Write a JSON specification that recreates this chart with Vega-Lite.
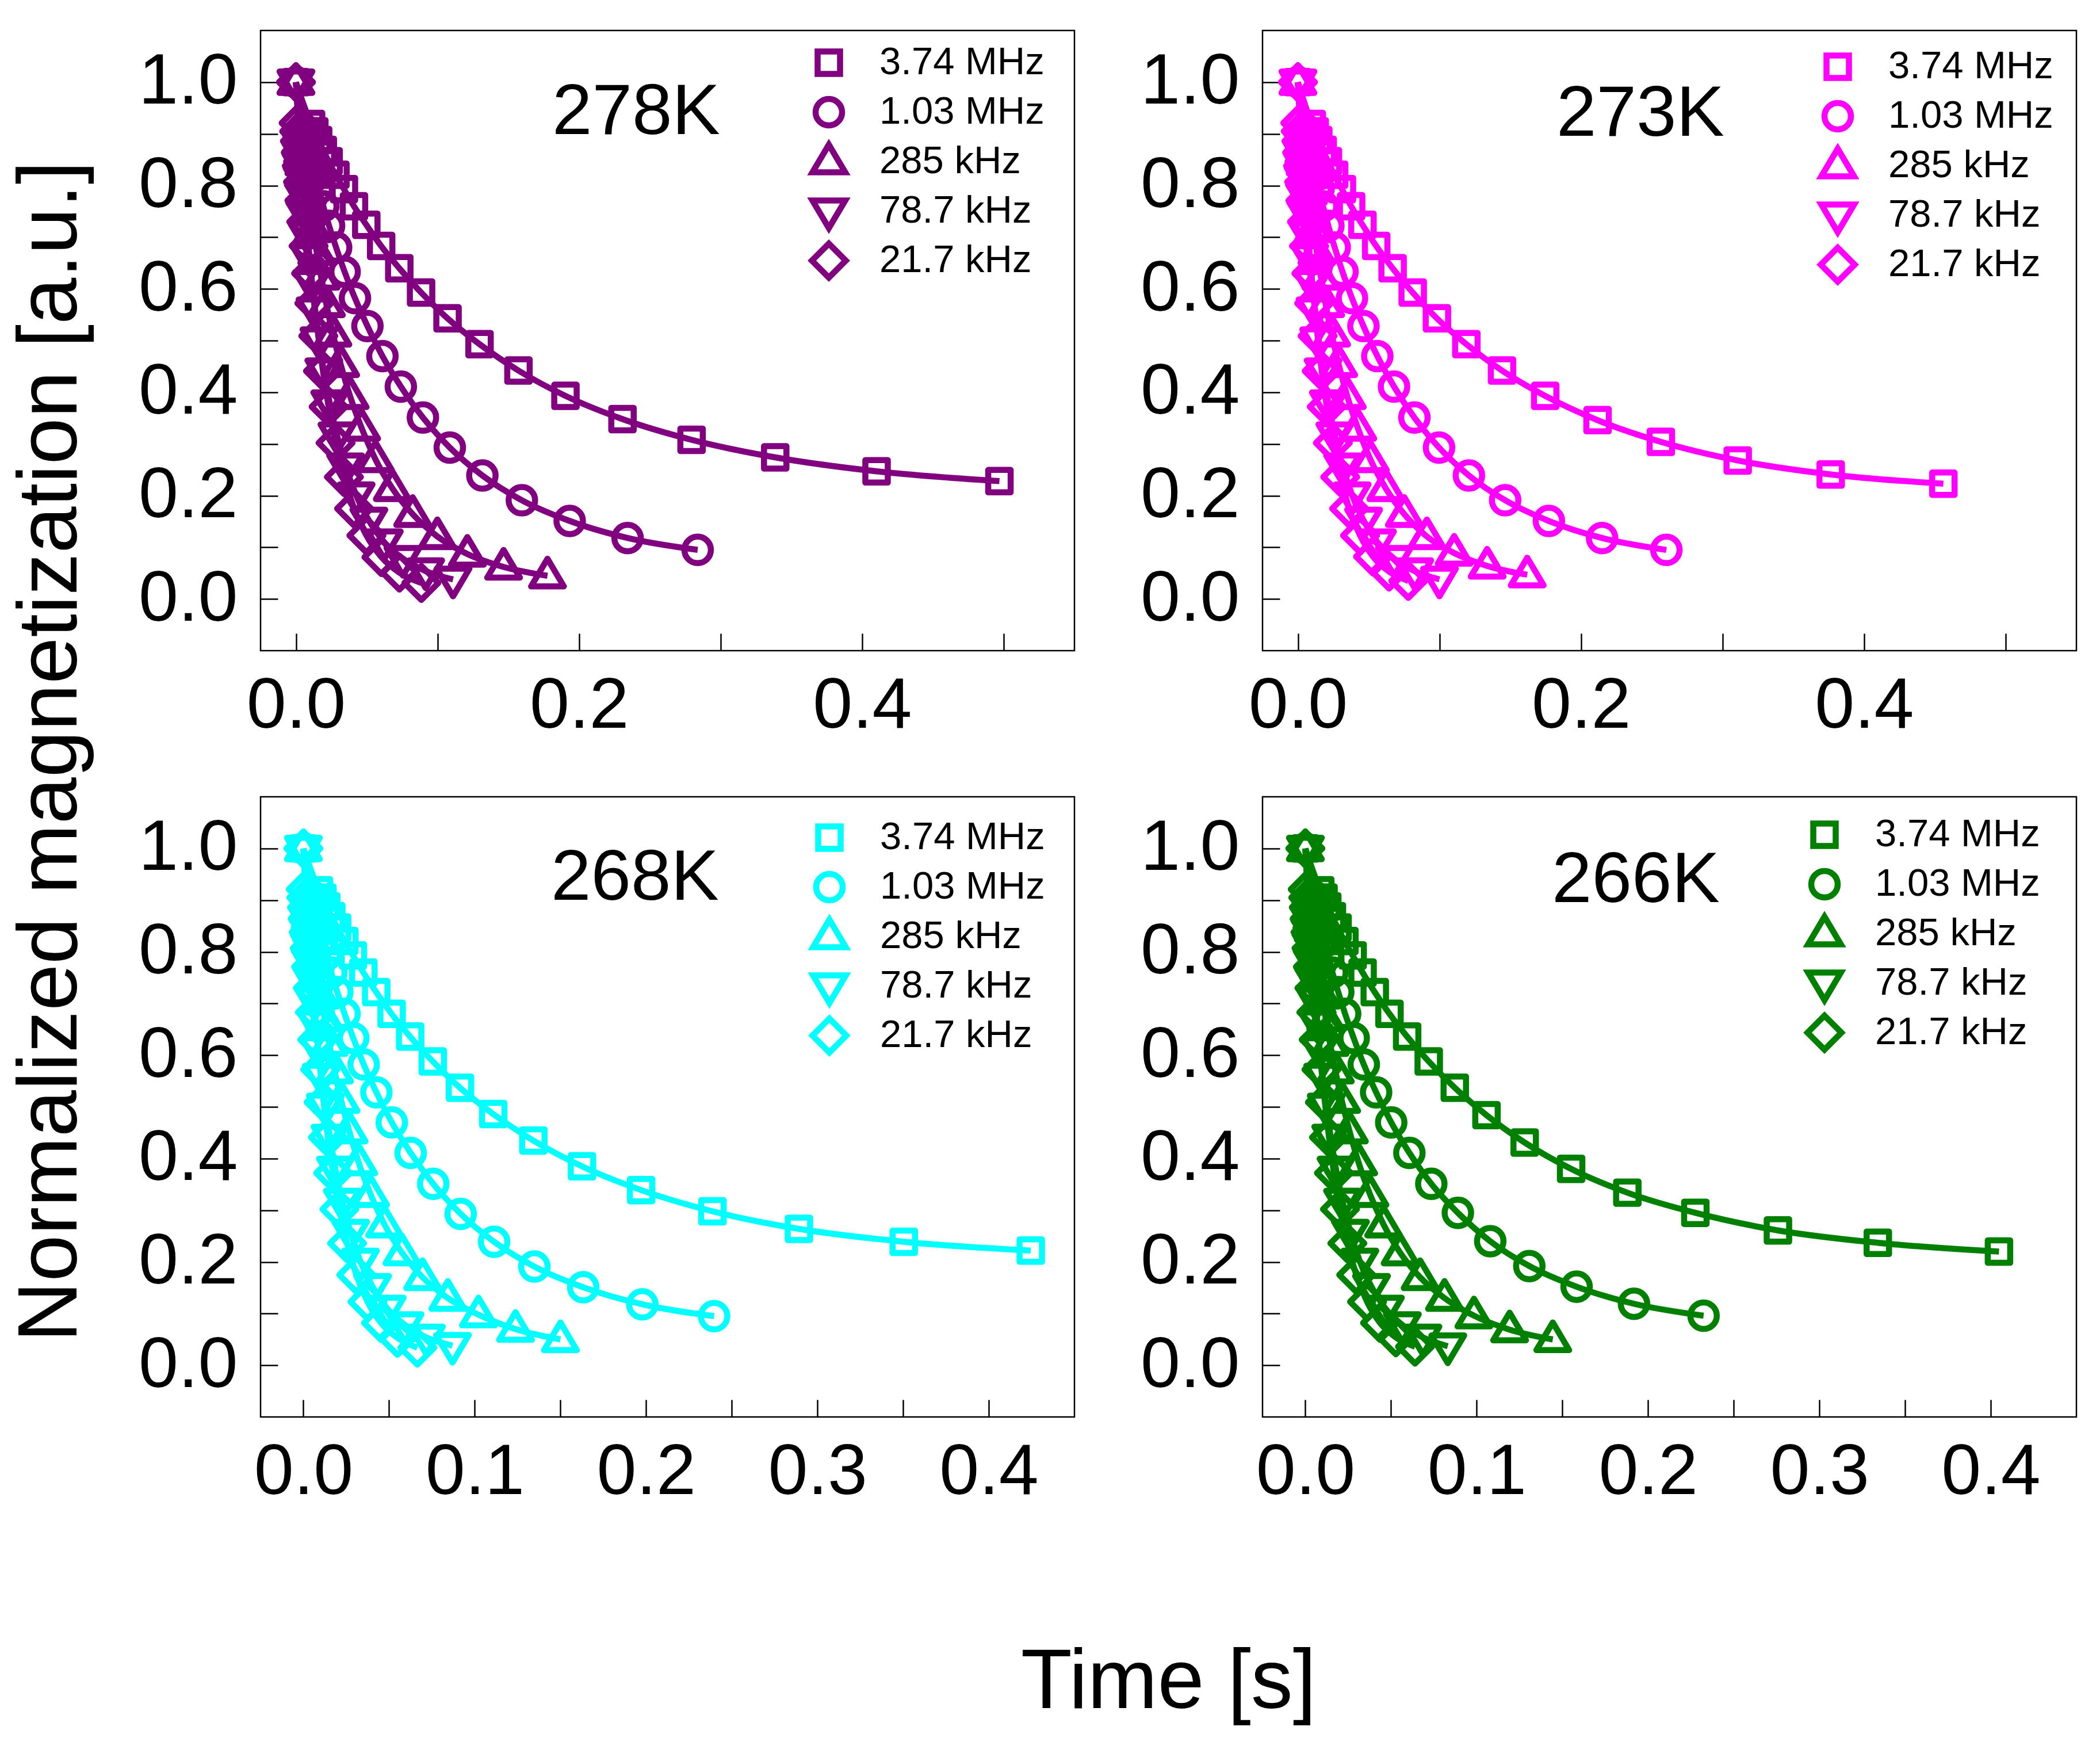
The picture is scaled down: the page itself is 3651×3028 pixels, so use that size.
{
"$schema": "https://vega.github.io/schema/vega-lite/v6.json",
"padding": {"left": 13, "top": 51, "right": 30, "bottom": 30},
"background": "white",
"config": {
  "font": "Liberation Sans",
  "view": {"stroke": "black", "strokeWidth": 2.5},
  "axis": {"labelFontSize": 124, "labelColor": "black", "labelFont": "Liberation Sans", "tickSize": -30, "tickWidth": 2.5, "tickColor": "black", "domain": false, "grid": false, "labelOverlap": false, "labelFlush": false, "labelBound": false, "labelLimit": 1000, "titleFontSize": 146, "titleFontWeight": "normal", "titleColor": "black", "titleFont": "Liberation Sans"},
  "axisX": {"labelPadding": 65},
  "axisY": {"labelPadding": 70},
  "legend": {"labelFontSize": 67, "labelColor": "black", "labelFont": "Liberation Sans", "labelLimit": 1000, "symbolStrokeWidth": 10.5, "symbolFillColor": "transparent", "symbolSize": 3480, "rowPadding": -21, "labelOffset": 53, "padding": 0},
  "title": {"fontSize": 125, "fontWeight": "normal", "color": "black", "font": "Liberation Sans"}
},
"data": {"values": [
{"p":"278K","f":"3.74 MHz","t":0,"y":1},{"p":"278K","f":"3.74 MHz","t":0.0107,"y":0.919},{"p":"278K","f":"3.74 MHz","t":0.013,"y":0.905},{"p":"278K","f":"3.74 MHz","t":0.0157,"y":0.888},{"p":"278K","f":"3.74 MHz","t":0.019,"y":0.869},{"p":"278K","f":"3.74 MHz","t":0.0231,"y":0.847},{"p":"278K","f":"3.74 MHz","t":0.0279,"y":0.821},{"p":"278K","f":"3.74 MHz","t":0.0339,"y":0.793},{"p":"278K","f":"3.74 MHz","t":0.041,"y":0.76},{"p":"278K","f":"3.74 MHz","t":0.0497,"y":0.724},{"p":"278K","f":"3.74 MHz","t":0.0602,"y":0.683},{"p":"278K","f":"3.74 MHz","t":0.073,"y":0.64},{"p":"278K","f":"3.74 MHz","t":0.0884,"y":0.593},{"p":"278K","f":"3.74 MHz","t":0.1071,"y":0.543},{"p":"278K","f":"3.74 MHz","t":0.1297,"y":0.493},{"p":"278K","f":"3.74 MHz","t":0.1572,"y":0.442},{"p":"278K","f":"3.74 MHz","t":0.1904,"y":0.393},{"p":"278K","f":"3.74 MHz","t":0.2307,"y":0.348},{"p":"278K","f":"3.74 MHz","t":0.2795,"y":0.308},{"p":"278K","f":"3.74 MHz","t":0.3386,"y":0.274},{"p":"278K","f":"3.74 MHz","t":0.4102,"y":0.247},{"p":"278K","f":"3.74 MHz","t":0.497,"y":0.228},
{"p":"278K","f":"1.03 MHz","t":0,"y":1},{"p":"278K","f":"1.03 MHz","t":0.0061,"y":0.907},{"p":"278K","f":"1.03 MHz","t":0.0074,"y":0.89},{"p":"278K","f":"1.03 MHz","t":0.009,"y":0.871},{"p":"278K","f":"1.03 MHz","t":0.0109,"y":0.849},{"p":"278K","f":"1.03 MHz","t":0.0132,"y":0.823},{"p":"278K","f":"1.03 MHz","t":0.016,"y":0.794},{"p":"278K","f":"1.03 MHz","t":0.0193,"y":0.76},{"p":"278K","f":"1.03 MHz","t":0.0234,"y":0.722},{"p":"278K","f":"1.03 MHz","t":0.0284,"y":0.68},{"p":"278K","f":"1.03 MHz","t":0.0344,"y":0.633},{"p":"278K","f":"1.03 MHz","t":0.0417,"y":0.582},{"p":"278K","f":"1.03 MHz","t":0.0505,"y":0.528},{"p":"278K","f":"1.03 MHz","t":0.0611,"y":0.47},{"p":"278K","f":"1.03 MHz","t":0.0741,"y":0.411},{"p":"278K","f":"1.03 MHz","t":0.0897,"y":0.351},{"p":"278K","f":"1.03 MHz","t":0.1087,"y":0.293},{"p":"278K","f":"1.03 MHz","t":0.1317,"y":0.239},{"p":"278K","f":"1.03 MHz","t":0.1596,"y":0.191},{"p":"278K","f":"1.03 MHz","t":0.1934,"y":0.151},{"p":"278K","f":"1.03 MHz","t":0.2343,"y":0.118},{"p":"278K","f":"1.03 MHz","t":0.2838,"y":0.095},
{"p":"278K","f":"285 kHz","t":0,"y":1},{"p":"278K","f":"285 kHz","t":0.0038,"y":0.887},{"p":"278K","f":"285 kHz","t":0.0046,"y":0.867},{"p":"278K","f":"285 kHz","t":0.0056,"y":0.844},{"p":"278K","f":"285 kHz","t":0.0068,"y":0.818},{"p":"278K","f":"285 kHz","t":0.0082,"y":0.788},{"p":"278K","f":"285 kHz","t":0.01,"y":0.753},{"p":"278K","f":"285 kHz","t":0.0121,"y":0.715},{"p":"278K","f":"285 kHz","t":0.0147,"y":0.671},{"p":"278K","f":"285 kHz","t":0.0178,"y":0.623},{"p":"278K","f":"285 kHz","t":0.0215,"y":0.57},{"p":"278K","f":"285 kHz","t":0.0261,"y":0.513},{"p":"278K","f":"285 kHz","t":0.0316,"y":0.454},{"p":"278K","f":"285 kHz","t":0.0383,"y":0.392},{"p":"278K","f":"285 kHz","t":0.0464,"y":0.331},{"p":"278K","f":"285 kHz","t":0.0562,"y":0.27},{"p":"278K","f":"285 kHz","t":0.0681,"y":0.214},{"p":"278K","f":"285 kHz","t":0.0825,"y":0.164},{"p":"278K","f":"285 kHz","t":0.0999,"y":0.121},{"p":"278K","f":"285 kHz","t":0.1211,"y":0.087},{"p":"278K","f":"285 kHz","t":0.1467,"y":0.062},{"p":"278K","f":"285 kHz","t":0.1777,"y":0.045},
{"p":"278K","f":"78.7 kHz","t":0,"y":1},{"p":"278K","f":"78.7 kHz","t":0.0024,"y":0.884},{"p":"278K","f":"78.7 kHz","t":0.0029,"y":0.863},{"p":"278K","f":"78.7 kHz","t":0.0035,"y":0.84},{"p":"278K","f":"78.7 kHz","t":0.0043,"y":0.813},{"p":"278K","f":"78.7 kHz","t":0.0052,"y":0.781},{"p":"278K","f":"78.7 kHz","t":0.0062,"y":0.746},{"p":"278K","f":"78.7 kHz","t":0.0076,"y":0.706},{"p":"278K","f":"78.7 kHz","t":0.0092,"y":0.662},{"p":"278K","f":"78.7 kHz","t":0.0111,"y":0.612},{"p":"278K","f":"78.7 kHz","t":0.0135,"y":0.559},{"p":"278K","f":"78.7 kHz","t":0.0163,"y":0.501},{"p":"278K","f":"78.7 kHz","t":0.0197,"y":0.441},{"p":"278K","f":"78.7 kHz","t":0.0239,"y":0.379},{"p":"278K","f":"78.7 kHz","t":0.029,"y":0.317},{"p":"278K","f":"78.7 kHz","t":0.0351,"y":0.257},{"p":"278K","f":"78.7 kHz","t":0.0425,"y":0.201},{"p":"278K","f":"78.7 kHz","t":0.0515,"y":0.152},{"p":"278K","f":"78.7 kHz","t":0.0624,"y":0.11},{"p":"278K","f":"78.7 kHz","t":0.0756,"y":0.078},{"p":"278K","f":"78.7 kHz","t":0.0916,"y":0.054},{"p":"278K","f":"78.7 kHz","t":0.111,"y":0.038},
{"p":"278K","f":"21.7 kHz","t":0,"y":1},{"p":"278K","f":"21.7 kHz","t":0.0019,"y":0.921},{"p":"278K","f":"21.7 kHz","t":0.0023,"y":0.905},{"p":"278K","f":"21.7 kHz","t":0.0028,"y":0.886},{"p":"278K","f":"21.7 kHz","t":0.0034,"y":0.864},{"p":"278K","f":"21.7 kHz","t":0.0041,"y":0.838},{"p":"278K","f":"21.7 kHz","t":0.005,"y":0.807},{"p":"278K","f":"21.7 kHz","t":0.006,"y":0.771},{"p":"278K","f":"21.7 kHz","t":0.0073,"y":0.73},{"p":"278K","f":"21.7 kHz","t":0.0089,"y":0.683},{"p":"278K","f":"21.7 kHz","t":0.0107,"y":0.63},{"p":"278K","f":"21.7 kHz","t":0.013,"y":0.572},{"p":"278K","f":"21.7 kHz","t":0.0158,"y":0.509},{"p":"278K","f":"21.7 kHz","t":0.0191,"y":0.441},{"p":"278K","f":"21.7 kHz","t":0.0231,"y":0.372},{"p":"278K","f":"21.7 kHz","t":0.028,"y":0.302},{"p":"278K","f":"21.7 kHz","t":0.0339,"y":0.236},{"p":"278K","f":"21.7 kHz","t":0.0411,"y":0.175},{"p":"278K","f":"21.7 kHz","t":0.0498,"y":0.123},{"p":"278K","f":"21.7 kHz","t":0.0604,"y":0.081},{"p":"278K","f":"21.7 kHz","t":0.0731,"y":0.051},{"p":"278K","f":"21.7 kHz","t":0.0886,"y":0.031},
{"p":"273K","f":"3.74 MHz","t":0,"y":1},{"p":"273K","f":"3.74 MHz","t":0.0098,"y":0.919},{"p":"273K","f":"3.74 MHz","t":0.0119,"y":0.905},{"p":"273K","f":"3.74 MHz","t":0.0144,"y":0.888},{"p":"273K","f":"3.74 MHz","t":0.0175,"y":0.869},{"p":"273K","f":"3.74 MHz","t":0.0212,"y":0.847},{"p":"273K","f":"3.74 MHz","t":0.0256,"y":0.821},{"p":"273K","f":"3.74 MHz","t":0.0311,"y":0.793},{"p":"273K","f":"3.74 MHz","t":0.0376,"y":0.76},{"p":"273K","f":"3.74 MHz","t":0.0456,"y":0.724},{"p":"273K","f":"3.74 MHz","t":0.0553,"y":0.683},{"p":"273K","f":"3.74 MHz","t":0.0669,"y":0.64},{"p":"273K","f":"3.74 MHz","t":0.0811,"y":0.593},{"p":"273K","f":"3.74 MHz","t":0.0982,"y":0.543},{"p":"273K","f":"3.74 MHz","t":0.119,"y":0.493},{"p":"273K","f":"3.74 MHz","t":0.1442,"y":0.442},{"p":"273K","f":"3.74 MHz","t":0.1747,"y":0.393},{"p":"273K","f":"3.74 MHz","t":0.2117,"y":0.346},{"p":"273K","f":"3.74 MHz","t":0.2564,"y":0.304},{"p":"273K","f":"3.74 MHz","t":0.3107,"y":0.268},{"p":"273K","f":"3.74 MHz","t":0.3764,"y":0.241},{"p":"273K","f":"3.74 MHz","t":0.456,"y":0.223},
{"p":"273K","f":"1.03 MHz","t":0,"y":1},{"p":"273K","f":"1.03 MHz","t":0.0056,"y":0.907},{"p":"273K","f":"1.03 MHz","t":0.0068,"y":0.89},{"p":"273K","f":"1.03 MHz","t":0.0082,"y":0.871},{"p":"273K","f":"1.03 MHz","t":0.01,"y":0.849},{"p":"273K","f":"1.03 MHz","t":0.0121,"y":0.823},{"p":"273K","f":"1.03 MHz","t":0.0146,"y":0.794},{"p":"273K","f":"1.03 MHz","t":0.0177,"y":0.76},{"p":"273K","f":"1.03 MHz","t":0.0215,"y":0.722},{"p":"273K","f":"1.03 MHz","t":0.026,"y":0.68},{"p":"273K","f":"1.03 MHz","t":0.0315,"y":0.633},{"p":"273K","f":"1.03 MHz","t":0.0382,"y":0.582},{"p":"273K","f":"1.03 MHz","t":0.0463,"y":0.528},{"p":"273K","f":"1.03 MHz","t":0.0561,"y":0.47},{"p":"273K","f":"1.03 MHz","t":0.0679,"y":0.411},{"p":"273K","f":"1.03 MHz","t":0.0823,"y":0.351},{"p":"273K","f":"1.03 MHz","t":0.0997,"y":0.293},{"p":"273K","f":"1.03 MHz","t":0.1208,"y":0.239},{"p":"273K","f":"1.03 MHz","t":0.1464,"y":0.191},{"p":"273K","f":"1.03 MHz","t":0.1773,"y":0.151},{"p":"273K","f":"1.03 MHz","t":0.2149,"y":0.118},{"p":"273K","f":"1.03 MHz","t":0.2603,"y":0.095},
{"p":"273K","f":"285 kHz","t":0,"y":1},{"p":"273K","f":"285 kHz","t":0.0035,"y":0.887},{"p":"273K","f":"285 kHz","t":0.0042,"y":0.867},{"p":"273K","f":"285 kHz","t":0.0051,"y":0.844},{"p":"273K","f":"285 kHz","t":0.0062,"y":0.818},{"p":"273K","f":"285 kHz","t":0.0075,"y":0.788},{"p":"273K","f":"285 kHz","t":0.0091,"y":0.753},{"p":"273K","f":"285 kHz","t":0.011,"y":0.715},{"p":"273K","f":"285 kHz","t":0.0134,"y":0.671},{"p":"273K","f":"285 kHz","t":0.0162,"y":0.623},{"p":"273K","f":"285 kHz","t":0.0196,"y":0.57},{"p":"273K","f":"285 kHz","t":0.0238,"y":0.513},{"p":"273K","f":"285 kHz","t":0.0288,"y":0.454},{"p":"273K","f":"285 kHz","t":0.0349,"y":0.392},{"p":"273K","f":"285 kHz","t":0.0423,"y":0.331},{"p":"273K","f":"285 kHz","t":0.0512,"y":0.27},{"p":"273K","f":"285 kHz","t":0.0621,"y":0.214},{"p":"273K","f":"285 kHz","t":0.0752,"y":0.164},{"p":"273K","f":"285 kHz","t":0.0911,"y":0.121},{"p":"273K","f":"285 kHz","t":0.1104,"y":0.089},{"p":"273K","f":"285 kHz","t":0.1337,"y":0.064},{"p":"273K","f":"285 kHz","t":0.162,"y":0.047},
{"p":"273K","f":"78.7 kHz","t":0,"y":1},{"p":"273K","f":"78.7 kHz","t":0.0022,"y":0.884},{"p":"273K","f":"78.7 kHz","t":0.0026,"y":0.863},{"p":"273K","f":"78.7 kHz","t":0.0032,"y":0.84},{"p":"273K","f":"78.7 kHz","t":0.0038,"y":0.813},{"p":"273K","f":"78.7 kHz","t":0.0046,"y":0.781},{"p":"273K","f":"78.7 kHz","t":0.0056,"y":0.746},{"p":"273K","f":"78.7 kHz","t":0.0068,"y":0.706},{"p":"273K","f":"78.7 kHz","t":0.0083,"y":0.662},{"p":"273K","f":"78.7 kHz","t":0.01,"y":0.612},{"p":"273K","f":"78.7 kHz","t":0.0121,"y":0.559},{"p":"273K","f":"78.7 kHz","t":0.0147,"y":0.501},{"p":"273K","f":"78.7 kHz","t":0.0178,"y":0.441},{"p":"273K","f":"78.7 kHz","t":0.0215,"y":0.379},{"p":"273K","f":"78.7 kHz","t":0.0261,"y":0.317},{"p":"273K","f":"78.7 kHz","t":0.0316,"y":0.257},{"p":"273K","f":"78.7 kHz","t":0.0383,"y":0.201},{"p":"273K","f":"78.7 kHz","t":0.0464,"y":0.152},{"p":"273K","f":"78.7 kHz","t":0.0562,"y":0.11},{"p":"273K","f":"78.7 kHz","t":0.0681,"y":0.078},{"p":"273K","f":"78.7 kHz","t":0.0825,"y":0.054},{"p":"273K","f":"78.7 kHz","t":0.1,"y":0.038},
{"p":"273K","f":"21.7 kHz","t":0,"y":1},{"p":"273K","f":"21.7 kHz","t":0.0017,"y":0.921},{"p":"273K","f":"21.7 kHz","t":0.002,"y":0.905},{"p":"273K","f":"21.7 kHz","t":0.0025,"y":0.886},{"p":"273K","f":"21.7 kHz","t":0.003,"y":0.864},{"p":"273K","f":"21.7 kHz","t":0.0036,"y":0.838},{"p":"273K","f":"21.7 kHz","t":0.0044,"y":0.807},{"p":"273K","f":"21.7 kHz","t":0.0053,"y":0.771},{"p":"273K","f":"21.7 kHz","t":0.0064,"y":0.73},{"p":"273K","f":"21.7 kHz","t":0.0078,"y":0.683},{"p":"273K","f":"21.7 kHz","t":0.0095,"y":0.63},{"p":"273K","f":"21.7 kHz","t":0.0115,"y":0.572},{"p":"273K","f":"21.7 kHz","t":0.0139,"y":0.509},{"p":"273K","f":"21.7 kHz","t":0.0168,"y":0.441},{"p":"273K","f":"21.7 kHz","t":0.0204,"y":0.372},{"p":"273K","f":"21.7 kHz","t":0.0247,"y":0.302},{"p":"273K","f":"21.7 kHz","t":0.0299,"y":0.236},{"p":"273K","f":"21.7 kHz","t":0.0362,"y":0.175},{"p":"273K","f":"21.7 kHz","t":0.0439,"y":0.123},{"p":"273K","f":"21.7 kHz","t":0.0531,"y":0.082},{"p":"273K","f":"21.7 kHz","t":0.0644,"y":0.053},{"p":"273K","f":"21.7 kHz","t":0.078,"y":0.035},
{"p":"268K","f":"3.74 MHz","t":0,"y":1},{"p":"268K","f":"3.74 MHz","t":0.0091,"y":0.919},{"p":"268K","f":"3.74 MHz","t":0.0111,"y":0.905},{"p":"268K","f":"3.74 MHz","t":0.0134,"y":0.888},{"p":"268K","f":"3.74 MHz","t":0.0163,"y":0.869},{"p":"268K","f":"3.74 MHz","t":0.0197,"y":0.847},{"p":"268K","f":"3.74 MHz","t":0.0239,"y":0.821},{"p":"268K","f":"3.74 MHz","t":0.0289,"y":0.793},{"p":"268K","f":"3.74 MHz","t":0.035,"y":0.76},{"p":"268K","f":"3.74 MHz","t":0.0425,"y":0.722},{"p":"268K","f":"3.74 MHz","t":0.0515,"y":0.68},{"p":"268K","f":"3.74 MHz","t":0.0623,"y":0.636},{"p":"268K","f":"3.74 MHz","t":0.0755,"y":0.588},{"p":"268K","f":"3.74 MHz","t":0.0914,"y":0.537},{"p":"268K","f":"3.74 MHz","t":0.1108,"y":0.486},{"p":"268K","f":"3.74 MHz","t":0.1342,"y":0.435},{"p":"268K","f":"3.74 MHz","t":0.1626,"y":0.385},{"p":"268K","f":"3.74 MHz","t":0.1971,"y":0.339},{"p":"268K","f":"3.74 MHz","t":0.2387,"y":0.298},{"p":"268K","f":"3.74 MHz","t":0.2892,"y":0.264},{"p":"268K","f":"3.74 MHz","t":0.3504,"y":0.239},{"p":"268K","f":"3.74 MHz","t":0.4245,"y":0.222},
{"p":"268K","f":"1.03 MHz","t":0,"y":1},{"p":"268K","f":"1.03 MHz","t":0.0052,"y":0.907},{"p":"268K","f":"1.03 MHz","t":0.0063,"y":0.89},{"p":"268K","f":"1.03 MHz","t":0.0076,"y":0.871},{"p":"268K","f":"1.03 MHz","t":0.0092,"y":0.849},{"p":"268K","f":"1.03 MHz","t":0.0111,"y":0.823},{"p":"268K","f":"1.03 MHz","t":0.0135,"y":0.794},{"p":"268K","f":"1.03 MHz","t":0.0163,"y":0.76},{"p":"268K","f":"1.03 MHz","t":0.0198,"y":0.722},{"p":"268K","f":"1.03 MHz","t":0.024,"y":0.68},{"p":"268K","f":"1.03 MHz","t":0.0291,"y":0.633},{"p":"268K","f":"1.03 MHz","t":0.0352,"y":0.582},{"p":"268K","f":"1.03 MHz","t":0.0426,"y":0.528},{"p":"268K","f":"1.03 MHz","t":0.0516,"y":0.47},{"p":"268K","f":"1.03 MHz","t":0.0626,"y":0.411},{"p":"268K","f":"1.03 MHz","t":0.0758,"y":0.351},{"p":"268K","f":"1.03 MHz","t":0.0918,"y":0.293},{"p":"268K","f":"1.03 MHz","t":0.1113,"y":0.239},{"p":"268K","f":"1.03 MHz","t":0.1348,"y":0.191},{"p":"268K","f":"1.03 MHz","t":0.1633,"y":0.151},{"p":"268K","f":"1.03 MHz","t":0.1978,"y":0.118},{"p":"268K","f":"1.03 MHz","t":0.2397,"y":0.095},
{"p":"268K","f":"285 kHz","t":0,"y":1},{"p":"268K","f":"285 kHz","t":0.0032,"y":0.887},{"p":"268K","f":"285 kHz","t":0.0039,"y":0.867},{"p":"268K","f":"285 kHz","t":0.0047,"y":0.844},{"p":"268K","f":"285 kHz","t":0.0057,"y":0.818},{"p":"268K","f":"285 kHz","t":0.007,"y":0.788},{"p":"268K","f":"285 kHz","t":0.0084,"y":0.753},{"p":"268K","f":"285 kHz","t":0.0102,"y":0.715},{"p":"268K","f":"285 kHz","t":0.0124,"y":0.671},{"p":"268K","f":"285 kHz","t":0.015,"y":0.623},{"p":"268K","f":"285 kHz","t":0.0182,"y":0.57},{"p":"268K","f":"285 kHz","t":0.022,"y":0.513},{"p":"268K","f":"285 kHz","t":0.0267,"y":0.454},{"p":"268K","f":"285 kHz","t":0.0323,"y":0.392},{"p":"268K","f":"285 kHz","t":0.0392,"y":0.331},{"p":"268K","f":"285 kHz","t":0.0474,"y":0.272},{"p":"268K","f":"285 kHz","t":0.0575,"y":0.218},{"p":"268K","f":"285 kHz","t":0.0696,"y":0.17},{"p":"268K","f":"285 kHz","t":0.0843,"y":0.13},{"p":"268K","f":"285 kHz","t":0.1022,"y":0.098},{"p":"268K","f":"285 kHz","t":0.1238,"y":0.07},{"p":"268K","f":"285 kHz","t":0.15,"y":0.05},
{"p":"268K","f":"78.7 kHz","t":0,"y":1},{"p":"268K","f":"78.7 kHz","t":0.0019,"y":0.884},{"p":"268K","f":"78.7 kHz","t":0.0023,"y":0.863},{"p":"268K","f":"78.7 kHz","t":0.0028,"y":0.84},{"p":"268K","f":"78.7 kHz","t":0.0033,"y":0.813},{"p":"268K","f":"78.7 kHz","t":0.004,"y":0.781},{"p":"268K","f":"78.7 kHz","t":0.0049,"y":0.746},{"p":"268K","f":"78.7 kHz","t":0.0059,"y":0.706},{"p":"268K","f":"78.7 kHz","t":0.0072,"y":0.662},{"p":"268K","f":"78.7 kHz","t":0.0087,"y":0.612},{"p":"268K","f":"78.7 kHz","t":0.0105,"y":0.559},{"p":"268K","f":"78.7 kHz","t":0.0128,"y":0.501},{"p":"268K","f":"78.7 kHz","t":0.0155,"y":0.441},{"p":"268K","f":"78.7 kHz","t":0.0187,"y":0.379},{"p":"268K","f":"78.7 kHz","t":0.0227,"y":0.317},{"p":"268K","f":"78.7 kHz","t":0.0275,"y":0.257},{"p":"268K","f":"78.7 kHz","t":0.0333,"y":0.201},{"p":"268K","f":"78.7 kHz","t":0.0404,"y":0.152},{"p":"268K","f":"78.7 kHz","t":0.0489,"y":0.11},{"p":"268K","f":"78.7 kHz","t":0.0593,"y":0.078},{"p":"268K","f":"78.7 kHz","t":0.0718,"y":0.054},{"p":"268K","f":"78.7 kHz","t":0.087,"y":0.038},
{"p":"268K","f":"21.7 kHz","t":0,"y":1},{"p":"268K","f":"21.7 kHz","t":0.0014,"y":0.921},{"p":"268K","f":"21.7 kHz","t":0.0017,"y":0.905},{"p":"268K","f":"21.7 kHz","t":0.0021,"y":0.886},{"p":"268K","f":"21.7 kHz","t":0.0025,"y":0.864},{"p":"268K","f":"21.7 kHz","t":0.0031,"y":0.838},{"p":"268K","f":"21.7 kHz","t":0.0037,"y":0.807},{"p":"268K","f":"21.7 kHz","t":0.0045,"y":0.771},{"p":"268K","f":"21.7 kHz","t":0.0055,"y":0.73},{"p":"268K","f":"21.7 kHz","t":0.0067,"y":0.683},{"p":"268K","f":"21.7 kHz","t":0.0081,"y":0.63},{"p":"268K","f":"21.7 kHz","t":0.0098,"y":0.572},{"p":"268K","f":"21.7 kHz","t":0.0118,"y":0.509},{"p":"268K","f":"21.7 kHz","t":0.0143,"y":0.441},{"p":"268K","f":"21.7 kHz","t":0.0174,"y":0.372},{"p":"268K","f":"21.7 kHz","t":0.021,"y":0.302},{"p":"268K","f":"21.7 kHz","t":0.0255,"y":0.236},{"p":"268K","f":"21.7 kHz","t":0.0309,"y":0.175},{"p":"268K","f":"21.7 kHz","t":0.0374,"y":0.123},{"p":"268K","f":"21.7 kHz","t":0.0453,"y":0.082},{"p":"268K","f":"21.7 kHz","t":0.0549,"y":0.053},{"p":"268K","f":"21.7 kHz","t":0.0665,"y":0.034},
{"p":"266K","f":"3.74 MHz","t":0,"y":1},{"p":"266K","f":"3.74 MHz","t":0.0087,"y":0.919},{"p":"266K","f":"3.74 MHz","t":0.0106,"y":0.905},{"p":"266K","f":"3.74 MHz","t":0.0128,"y":0.888},{"p":"266K","f":"3.74 MHz","t":0.0155,"y":0.869},{"p":"266K","f":"3.74 MHz","t":0.0188,"y":0.847},{"p":"266K","f":"3.74 MHz","t":0.0228,"y":0.821},{"p":"266K","f":"3.74 MHz","t":0.0276,"y":0.793},{"p":"266K","f":"3.74 MHz","t":0.0334,"y":0.76},{"p":"266K","f":"3.74 MHz","t":0.0405,"y":0.722},{"p":"266K","f":"3.74 MHz","t":0.0491,"y":0.68},{"p":"266K","f":"3.74 MHz","t":0.0594,"y":0.636},{"p":"266K","f":"3.74 MHz","t":0.072,"y":0.588},{"p":"266K","f":"3.74 MHz","t":0.0872,"y":0.537},{"p":"266K","f":"3.74 MHz","t":0.1057,"y":0.484},{"p":"266K","f":"3.74 MHz","t":0.128,"y":0.431},{"p":"266K","f":"3.74 MHz","t":0.1551,"y":0.38},{"p":"266K","f":"3.74 MHz","t":0.1879,"y":0.334},{"p":"266K","f":"3.74 MHz","t":0.2276,"y":0.295},{"p":"266K","f":"3.74 MHz","t":0.2758,"y":0.261},{"p":"266K","f":"3.74 MHz","t":0.3341,"y":0.237},{"p":"266K","f":"3.74 MHz","t":0.4048,"y":0.22},
{"p":"266K","f":"1.03 MHz","t":0,"y":1},{"p":"266K","f":"1.03 MHz","t":0.005,"y":0.907},{"p":"266K","f":"1.03 MHz","t":0.0061,"y":0.89},{"p":"266K","f":"1.03 MHz","t":0.0073,"y":0.871},{"p":"266K","f":"1.03 MHz","t":0.0089,"y":0.849},{"p":"266K","f":"1.03 MHz","t":0.0108,"y":0.823},{"p":"266K","f":"1.03 MHz","t":0.0131,"y":0.794},{"p":"266K","f":"1.03 MHz","t":0.0158,"y":0.76},{"p":"266K","f":"1.03 MHz","t":0.0192,"y":0.722},{"p":"266K","f":"1.03 MHz","t":0.0232,"y":0.68},{"p":"266K","f":"1.03 MHz","t":0.0282,"y":0.633},{"p":"266K","f":"1.03 MHz","t":0.0341,"y":0.582},{"p":"266K","f":"1.03 MHz","t":0.0413,"y":0.528},{"p":"266K","f":"1.03 MHz","t":0.0501,"y":0.47},{"p":"266K","f":"1.03 MHz","t":0.0607,"y":0.411},{"p":"266K","f":"1.03 MHz","t":0.0735,"y":0.351},{"p":"266K","f":"1.03 MHz","t":0.089,"y":0.295},{"p":"266K","f":"1.03 MHz","t":0.1079,"y":0.24},{"p":"266K","f":"1.03 MHz","t":0.1307,"y":0.192},{"p":"266K","f":"1.03 MHz","t":0.1583,"y":0.152},{"p":"266K","f":"1.03 MHz","t":0.1918,"y":0.119},{"p":"266K","f":"1.03 MHz","t":0.2324,"y":0.096},
{"p":"266K","f":"285 kHz","t":0,"y":1},{"p":"266K","f":"285 kHz","t":0.0031,"y":0.887},{"p":"266K","f":"285 kHz","t":0.0038,"y":0.867},{"p":"266K","f":"285 kHz","t":0.0046,"y":0.844},{"p":"266K","f":"285 kHz","t":0.0055,"y":0.818},{"p":"266K","f":"285 kHz","t":0.0067,"y":0.788},{"p":"266K","f":"285 kHz","t":0.0081,"y":0.753},{"p":"266K","f":"285 kHz","t":0.0098,"y":0.715},{"p":"266K","f":"285 kHz","t":0.0119,"y":0.671},{"p":"266K","f":"285 kHz","t":0.0144,"y":0.623},{"p":"266K","f":"285 kHz","t":0.0175,"y":0.57},{"p":"266K","f":"285 kHz","t":0.0212,"y":0.513},{"p":"266K","f":"285 kHz","t":0.0257,"y":0.454},{"p":"266K","f":"285 kHz","t":0.0311,"y":0.392},{"p":"266K","f":"285 kHz","t":0.0377,"y":0.331},{"p":"266K","f":"285 kHz","t":0.0457,"y":0.272},{"p":"266K","f":"285 kHz","t":0.0553,"y":0.218},{"p":"266K","f":"285 kHz","t":0.067,"y":0.17},{"p":"266K","f":"285 kHz","t":0.0812,"y":0.13},{"p":"266K","f":"285 kHz","t":0.0984,"y":0.096},{"p":"266K","f":"285 kHz","t":0.1192,"y":0.069},{"p":"266K","f":"285 kHz","t":0.1444,"y":0.05},
{"p":"266K","f":"78.7 kHz","t":0,"y":1},{"p":"266K","f":"78.7 kHz","t":0.0018,"y":0.884},{"p":"266K","f":"78.7 kHz","t":0.0022,"y":0.863},{"p":"266K","f":"78.7 kHz","t":0.0026,"y":0.84},{"p":"266K","f":"78.7 kHz","t":0.0032,"y":0.813},{"p":"266K","f":"78.7 kHz","t":0.0039,"y":0.781},{"p":"266K","f":"78.7 kHz","t":0.0047,"y":0.746},{"p":"266K","f":"78.7 kHz","t":0.0057,"y":0.706},{"p":"266K","f":"78.7 kHz","t":0.0069,"y":0.662},{"p":"266K","f":"78.7 kHz","t":0.0083,"y":0.612},{"p":"266K","f":"78.7 kHz","t":0.0101,"y":0.559},{"p":"266K","f":"78.7 kHz","t":0.0122,"y":0.501},{"p":"266K","f":"78.7 kHz","t":0.0148,"y":0.441},{"p":"266K","f":"78.7 kHz","t":0.0179,"y":0.379},{"p":"266K","f":"78.7 kHz","t":0.0217,"y":0.317},{"p":"266K","f":"78.7 kHz","t":0.0263,"y":0.257},{"p":"266K","f":"78.7 kHz","t":0.0318,"y":0.201},{"p":"266K","f":"78.7 kHz","t":0.0386,"y":0.152},{"p":"266K","f":"78.7 kHz","t":0.0467,"y":0.11},{"p":"266K","f":"78.7 kHz","t":0.0566,"y":0.078},{"p":"266K","f":"78.7 kHz","t":0.0686,"y":0.054},{"p":"266K","f":"78.7 kHz","t":0.0831,"y":0.037},
{"p":"266K","f":"21.7 kHz","t":0,"y":1},{"p":"266K","f":"21.7 kHz","t":0.0014,"y":0.921},{"p":"266K","f":"21.7 kHz","t":0.0017,"y":0.905},{"p":"266K","f":"21.7 kHz","t":0.002,"y":0.886},{"p":"266K","f":"21.7 kHz","t":0.0025,"y":0.864},{"p":"266K","f":"21.7 kHz","t":0.003,"y":0.838},{"p":"266K","f":"21.7 kHz","t":0.0036,"y":0.807},{"p":"266K","f":"21.7 kHz","t":0.0044,"y":0.771},{"p":"266K","f":"21.7 kHz","t":0.0053,"y":0.73},{"p":"266K","f":"21.7 kHz","t":0.0064,"y":0.683},{"p":"266K","f":"21.7 kHz","t":0.0078,"y":0.63},{"p":"266K","f":"21.7 kHz","t":0.0094,"y":0.572},{"p":"266K","f":"21.7 kHz","t":0.0114,"y":0.509},{"p":"266K","f":"21.7 kHz","t":0.0138,"y":0.441},{"p":"266K","f":"21.7 kHz","t":0.0167,"y":0.372},{"p":"266K","f":"21.7 kHz","t":0.0202,"y":0.302},{"p":"266K","f":"21.7 kHz","t":0.0245,"y":0.236},{"p":"266K","f":"21.7 kHz","t":0.0297,"y":0.175},{"p":"266K","f":"21.7 kHz","t":0.036,"y":0.123},{"p":"266K","f":"21.7 kHz","t":0.0436,"y":0.082},{"p":"266K","f":"21.7 kHz","t":0.0528,"y":0.054},{"p":"266K","f":"21.7 kHz","t":0.064,"y":0.036}
]},
"columns": 2,
"bounds": "flush",
"spacing": {"row": 254, "column": 327},
"resolve": {"scale": {"x": "independent", "y": "independent", "shape": "independent"}, "legend": {"shape": "independent"}},
"concat": [
  {"width": 1415, "height": 1078,
   "title": {"text": "278K", "anchor": "start", "frame": "group", "offset": 0, "dx": 507, "dy": 305, "baseline": "alphabetic"},
   "transform": [{"filter": "datum.p === '278K'"}],
   "layer": [
    {"mark": {"type": "line", "interpolate": "monotone", "color": "#800080", "strokeWidth": 10.5},
     "encoding": {
      "x": {"field": "t", "type": "quantitative", "scale": {"domain": [-0.025, 0.55], "nice": false, "zero": false}, "axis": {"values": [0, 0.1, 0.2, 0.3, 0.4, 0.5], "format": ".1f", "labelExpr": "round(datum.value*10) % 2 == 0 ? datum.label : ''", "title": null}},
      "y": {"field": "y", "type": "quantitative", "scale": {"domain": [-0.1, 1.1], "nice": false, "zero": false}, "axis": {"values": [0, 0.1, 0.2, 0.3, 0.4, 0.5, 0.6, 0.7, 0.8, 0.9, 1.0], "format": ".1f", "labelExpr": "round(datum.value*10) % 2 == 0 ? datum.label : ''", "title": "Normalized magnetization [a.u.]", "titleAngle": 270, "titleAlign": "center", "titleBaseline": "alphabetic", "titleX": -321, "titleY": 1253}},
      "detail": {"field": "f"}}},
    {"mark": {"type": "point", "filled": false, "color": "#800080", "strokeWidth": 10.5, "strokeJoin": "round", "opacity": 1, "size": 3480},
     "encoding": {
      "x": {"field": "t", "type": "quantitative"},
      "y": {"field": "y", "type": "quantitative"},
      "shape": {"field": "f", "type": "nominal", "scale": {"domain": ["3.74 MHz", "1.03 MHz", "285 kHz", "78.7 kHz", "21.7 kHz"], "range": ["M-1,-1M1,1M-0.661,-0.661H0.661V0.661H-0.661Z", "M-1,-1M1,1M0.78,0A0.78,0.78 0 1,1 -0.78,0A0.78,0.78 0 1,1 0.78,0Z", "M-1,-1M1,1M0,-1L0.966,0.63L-0.966,0.63Z", "M-1,-1M1,1M0,1L0.966,-0.63L-0.966,-0.63Z", "M0,-1L1,0L0,1L-1,0Z"]}, "legend": {"orient": "none", "legendX": 953, "legendY": 21, "title": null, "symbolStrokeColor": "#800080", "labelFontSize": 67, "symbolSize": 3480}}}}
   ]},
  {"width": 1415, "height": 1078,
   "title": {"text": "273K", "anchor": "start", "frame": "group", "offset": 0, "dx": 511, "dy": 308, "baseline": "alphabetic"},
   "transform": [{"filter": "datum.p === '273K'"}],
   "layer": [
    {"mark": {"type": "line", "interpolate": "monotone", "color": "#FF00FF", "strokeWidth": 10.5},
     "encoding": {
      "x": {"field": "t", "type": "quantitative", "scale": {"domain": [-0.025, 0.55], "nice": false, "zero": false}, "axis": {"values": [0, 0.1, 0.2, 0.3, 0.4, 0.5], "format": ".1f", "labelExpr": "round(datum.value*10) % 2 == 0 ? datum.label : ''", "title": null}},
      "y": {"field": "y", "type": "quantitative", "scale": {"domain": [-0.1, 1.1], "nice": false, "zero": false}, "axis": {"values": [0, 0.1, 0.2, 0.3, 0.4, 0.5, 0.6, 0.7, 0.8, 0.9, 1.0], "format": ".1f", "labelExpr": "round(datum.value*10) % 2 == 0 ? datum.label : ''", "title": null}},
      "detail": {"field": "f"}}},
    {"mark": {"type": "point", "filled": false, "color": "#FF00FF", "strokeWidth": 10.5, "strokeJoin": "round", "opacity": 1, "size": 3480},
     "encoding": {
      "x": {"field": "t", "type": "quantitative"},
      "y": {"field": "y", "type": "quantitative"},
      "shape": {"field": "f", "type": "nominal", "scale": {"domain": ["3.74 MHz", "1.03 MHz", "285 kHz", "78.7 kHz", "21.7 kHz"], "range": ["M-1,-1M1,1M-0.661,-0.661H0.661V0.661H-0.661Z", "M-1,-1M1,1M0.78,0A0.78,0.78 0 1,1 -0.78,0A0.78,0.78 0 1,1 0.78,0Z", "M-1,-1M1,1M0,-1L0.966,0.63L-0.966,0.63Z", "M-1,-1M1,1M0,1L0.966,-0.63L-0.966,-0.63Z", "M0,-1L1,0L0,1L-1,0Z"]}, "legend": {"orient": "none", "legendX": 965, "legendY": 28, "title": null, "symbolStrokeColor": "#FF00FF", "labelFontSize": 67, "symbolSize": 3480}}}}
   ]},
  {"width": 1415, "height": 1078,
   "title": {"text": "268K", "anchor": "start", "frame": "group", "offset": 0, "dx": 505, "dy": 304, "baseline": "alphabetic"},
   "transform": [{"filter": "datum.p === '268K'"}],
   "layer": [
    {"mark": {"type": "line", "interpolate": "monotone", "color": "#00FFFF", "strokeWidth": 10.5},
     "encoding": {
      "x": {"field": "t", "type": "quantitative", "scale": {"domain": [-0.025, 0.45], "nice": false, "zero": false}, "axis": {"values": [0, 0.05, 0.1, 0.15, 0.2, 0.25, 0.3, 0.35, 0.4], "format": ".1f", "labelExpr": "round(datum.value*20) % 2 == 0 ? datum.label : ''", "title": "Time [s]", "titleX": 1578, "titleY": 505, "titleAlign": "center", "titleBaseline": "alphabetic"}},
      "y": {"field": "y", "type": "quantitative", "scale": {"domain": [-0.1, 1.1], "nice": false, "zero": false}, "axis": {"values": [0, 0.1, 0.2, 0.3, 0.4, 0.5, 0.6, 0.7, 0.8, 0.9, 1.0], "format": ".1f", "labelExpr": "round(datum.value*10) % 2 == 0 ? datum.label : ''", "title": null}},
      "detail": {"field": "f"}}},
    {"mark": {"type": "point", "filled": false, "color": "#00FFFF", "strokeWidth": 10.5, "strokeJoin": "round", "opacity": 1, "size": 3480},
     "encoding": {
      "x": {"field": "t", "type": "quantitative"},
      "y": {"field": "y", "type": "quantitative"},
      "shape": {"field": "f", "type": "nominal", "scale": {"domain": ["3.74 MHz", "1.03 MHz", "285 kHz", "78.7 kHz", "21.7 kHz"], "range": ["M-1,-1M1,1M-0.661,-0.661H0.661V0.661H-0.661Z", "M-1,-1M1,1M0.78,0A0.78,0.78 0 1,1 -0.78,0A0.78,0.78 0 1,1 0.78,0Z", "M-1,-1M1,1M0,-1L0.966,0.63L-0.966,0.63Z", "M-1,-1M1,1M0,1L0.966,-0.63L-0.966,-0.63Z", "M0,-1L1,0L0,1L-1,0Z"]}, "legend": {"orient": "none", "legendX": 954, "legendY": 36, "title": null, "symbolStrokeColor": "#00FFFF", "labelFontSize": 67, "symbolSize": 3480}}}}
   ]},
  {"width": 1415, "height": 1078,
   "title": {"text": "266K", "anchor": "start", "frame": "group", "offset": 0, "dx": 503, "dy": 308, "baseline": "alphabetic"},
   "transform": [{"filter": "datum.p === '266K'"}],
   "layer": [
    {"mark": {"type": "line", "interpolate": "monotone", "color": "#008000", "strokeWidth": 10.5},
     "encoding": {
      "x": {"field": "t", "type": "quantitative", "scale": {"domain": [-0.025, 0.45], "nice": false, "zero": false}, "axis": {"values": [0, 0.05, 0.1, 0.15, 0.2, 0.25, 0.3, 0.35, 0.4], "format": ".1f", "labelExpr": "round(datum.value*20) % 2 == 0 ? datum.label : ''", "title": null}},
      "y": {"field": "y", "type": "quantitative", "scale": {"domain": [-0.1, 1.1], "nice": false, "zero": false}, "axis": {"values": [0, 0.1, 0.2, 0.3, 0.4, 0.5, 0.6, 0.7, 0.8, 0.9, 1.0], "format": ".1f", "labelExpr": "round(datum.value*10) % 2 == 0 ? datum.label : ''", "title": null}},
      "detail": {"field": "f"}}},
    {"mark": {"type": "point", "filled": false, "color": "#008000", "strokeWidth": 10.5, "strokeJoin": "round", "opacity": 1, "size": 3480},
     "encoding": {
      "x": {"field": "t", "type": "quantitative"},
      "y": {"field": "y", "type": "quantitative"},
      "shape": {"field": "f", "type": "nominal", "scale": {"domain": ["3.74 MHz", "1.03 MHz", "285 kHz", "78.7 kHz", "21.7 kHz"], "range": ["M-1,-1M1,1M-0.661,-0.661H0.661V0.661H-0.661Z", "M-1,-1M1,1M0.78,0A0.78,0.78 0 1,1 -0.78,0A0.78,0.78 0 1,1 0.78,0Z", "M-1,-1M1,1M0,-1L0.966,0.63L-0.966,0.63Z", "M-1,-1M1,1M0,1L0.966,-0.63L-0.966,-0.63Z", "M0,-1L1,0L0,1L-1,0Z"]}, "legend": {"orient": "none", "legendX": 942, "legendY": 31, "title": null, "symbolStrokeColor": "#008000", "labelFontSize": 67, "symbolSize": 3480}}}}
   ]}
]
}
